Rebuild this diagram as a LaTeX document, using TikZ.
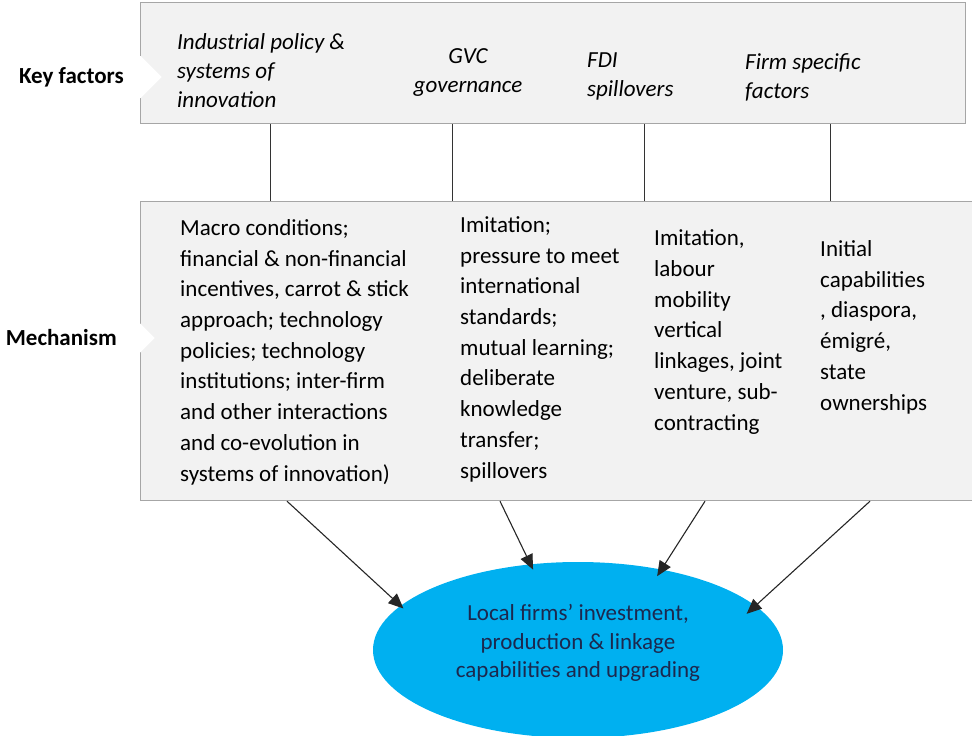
\documentclass[tikz,border=0pt]{standalone}
\usepackage{fontspec}
\setmainfont{Carlito}
\usepackage{tikz}
\usetikzlibrary{shapes.geometric,shapes.symbols,arrows.meta}
\definecolor{panelgrey}{RGB}{242,242,242}
\definecolor{edgegrey}{RGB}{166,166,166}
\definecolor{outcomeblue}{RGB}{0,176,240}
\definecolor{outcomenavy}{RGB}{28,40,78}

\begin{document}
\begin{tikzpicture}[x=1pt,y=-1pt,
    panel/.style={draw=edgegrey,fill=panelgrey,line width=1.2pt,anchor=north west,inner sep=0pt},
    rowlabel/.style={shape=signal,signal to=east,fill=white,inner xsep=17pt,minimum height=42pt,anchor=east,font=\fontsize{23}{28}\selectfont\bfseries},
    factor/.style={anchor=base west,inner sep=0pt,align=left,font=\fontsize{23}{29}\selectfont\itshape},
    mechtext/.style={anchor=base west,inner sep=0pt,align=left,font=\fontsize{23}{30.7}\selectfont},
    link/.style={draw=black!80,line width=1pt},
    feed/.style={draw=black!85,line width=1.1pt,-{Triangle[length=15pt,width=13pt]}},
    outcome/.style={ellipse,fill=outcomeblue,minimum width=410pt,minimum height=176pt,inner sep=0pt},
    outcometext/.style={align=center,text=outcomenavy,inner sep=0pt,font=\fontsize{23}{28.5}\selectfont}]
    \useasboundingbox (0,0) rectangle (972,736);

    % grey panels
    \node[panel,minimum width=825pt,minimum height=121pt] (kbox) at (140,2) {};
    \node[panel,minimum width=840pt,minimum height=299pt] (mbox) at (140,201) {};

    % row labels
    \node[rowlabel] (klabel) at (162,77) {Key factors};
    \node[rowlabel] (mlabel) at (155,338) {Mechanism};

    % key factors (base = last line)
    \node[factor] (k1) at (177,107) {Industrial policy \&\\systems of\\innovation};
    \node[factor,anchor=base,align=center] (k2) at (468,92) {GVC\\governance};
    \node[factor] (k3) at (587,96) {FDI\\spillovers};
    \node[factor] (k4) at (745,98) {Firm specific\\factors};

    % links between the panels
    \foreach \dx in {130,312,504,690}
        \draw[link] ([xshift=\dx pt]kbox.south west) -- ([xshift=\dx pt]mbox.north west);

    % mechanisms
    \node[mechtext] (m1) at (180,481) {Macro conditions;\\financial \& non-financial\\incentives, carrot \& stick\\approach; technology\\policies; technology\\institutions; inter-firm\\and other interactions\\and co-evolution in\\systems of innovation)};
    \node[mechtext] (m2) at (460,478) {Imitation;\\pressure to meet\\international\\standards;\\mutual learning;\\deliberate\\knowledge\\transfer;\\spillovers};
    \node[mechtext] (m3) at (654,430) {Imitation,\\labour\\mobility\\vertical\\linkages, joint\\venture, sub-\\contracting};
    \node[mechtext] (m4) at (820,410) {Initial\\capabilities\\, diaspora,\\émigré,\\state\\ownerships};

    % outcome
    \node[outcome] (goal) at (578,650) {};
    \node[outcometext] (goaltext) at ([yshift=7pt]goal.center) {Local firms’ investment,\\production \& linkage\\capabilities and upgrading};

    \foreach \dx/\ang/\pen in {147/166/4,360/119/6,565/44/8,730/14.5/12}
        \draw[feed,shorten >=-\pen pt] ([xshift=\dx pt]mbox.south west) -- (goal.\ang);
\end{tikzpicture}
\end{document}
